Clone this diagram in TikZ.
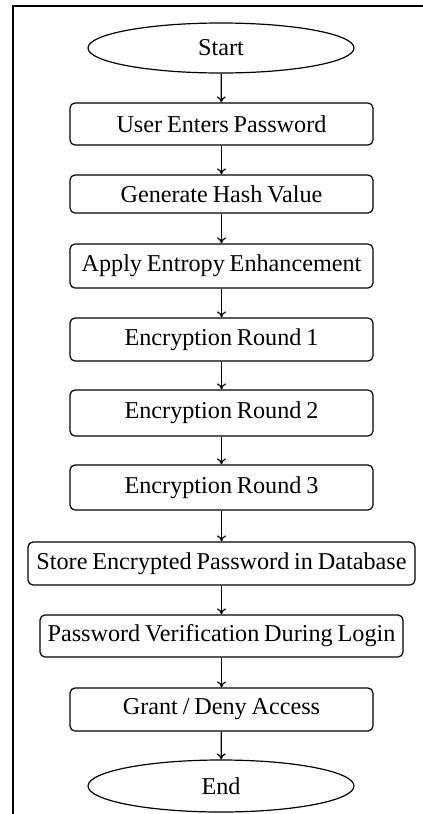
\documentclass[tikz,border=0pt]{standalone}
\usepackage{fontspec}
\setmainfont{Liberation Serif}[WordSpace={0.8,0.5,0.3}]
\usetikzlibrary{shapes.geometric,arrows.meta}
\begin{document}
\begin{tikzpicture}[x=0.5pt,y=-0.5pt,
  every node/.style={font=\fontsize{12.1}{14}\selectfont, inner sep=0pt},
  proc/.style={draw, rounded corners=2.5pt, line width=0.6pt},
  term/.style={draw, ellipse, line width=0.6pt},
  flow/.style={-{To[length=3pt,width=4.5pt]}, line width=0.6pt}]
\useasboundingbox (0,0) rectangle (423,814);
\draw[line width=0.75pt] (13,814) -- (13,6) -- (423,6);
\node[term, minimum width=133pt, minimum height=25pt] (s) at (221,48) {Start};
\node[proc, minimum width=151.5pt, minimum height=21pt] (b1) at (221.5,124) {User Enters Password};
\node[proc, minimum width=151.5pt, minimum height=19pt] (b2) at (221.5,194) {Generate Hash Value};
\node[proc, minimum width=151.5pt, minimum height=22pt] (b3) at (221.5,266) {Apply Entropy Enhancement};
\node[proc, minimum width=151.5pt, minimum height=21.5pt] (b4) at (221.5,339.5) {Encryption Round 1};
\node[proc, minimum width=151.5pt, minimum height=23pt] (b5) at (221.5,413) {Encryption Round 2};
\node[proc, minimum width=151.5pt, minimum height=22.5pt] (b6) at (221.5,487.5) {Encryption Round 3};
\node[proc, minimum width=193.5pt, minimum height=21.5pt] (b7) at (221.5,563.5) {Store Encrypted Password in Database};
\node[proc, minimum width=181.5pt, minimum height=21pt] (b8) at (221.5,636) {Password Verification During Login};
\node[proc, minimum width=151.5pt, minimum height=21.5pt] (b9) at (221.5,709.5) {Grant / Deny Access};
\node[term, minimum width=133pt, minimum height=26pt] (e) at (221,786) {End};
\foreach \a/\b in {s/b1,b1/b2,b2/b3,b3/b4,b4/b5,b5/b6,b6/b7,b7/b8,b8/b9,b9/e}
  \draw[flow] (\a) -- (\b);
\end{tikzpicture}
\end{document}
